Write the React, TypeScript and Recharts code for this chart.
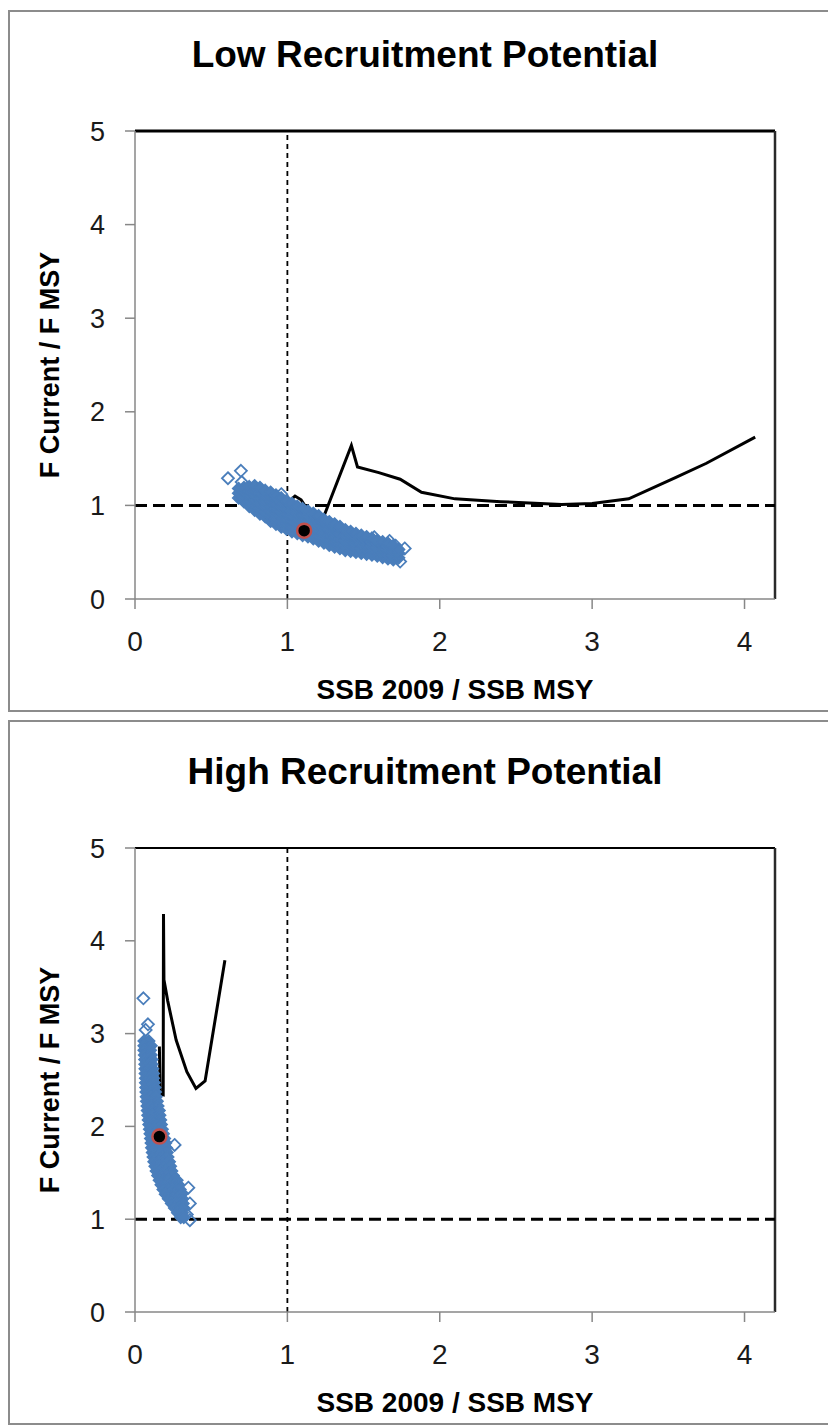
import React from 'react';
import {
  ScatterChart,
  Scatter,
  XAxis,
  YAxis,
  ReferenceLine,
} from 'recharts';

// --- data ---
const X_TICKS = [0, 1, 2, 3, 4];
const Y_TICKS = [0, 1, 2, 3, 4, 5];
const TITLES = ['Low Recruitment Potential', 'High Recruitment Potential'];
const X_LABEL = 'SSB 2009 / SSB MSY';
const Y_LABEL = 'F Current / F MSY';

// low recruitment: scatter cloud, one column per x with its y values
const LOW_CLOUD: [number, number[]][] = [
  [0.68, [1.08, 1.13, 1.18]],
  [0.715, [1.04, 1.09, 1.14, 1.19]],
  [0.75, [0.99, 1.045, 1.1, 1.155, 1.2]],
  [0.785, [0.95, 1.0, 1.055, 1.11, 1.165, 1.21]],
  [0.82, [0.91, 0.965, 1.02, 1.075, 1.13, 1.19]],
  [0.855, [0.88, 0.935, 0.99, 1.045, 1.1, 1.16]],
  [0.89, [0.83, 0.885, 0.94, 0.995, 1.05, 1.1, 1.14]],
  [0.925, [0.8, 0.855, 0.91, 0.965, 1.02, 1.075, 1.11]],
  [0.96, [0.77, 0.825, 0.88, 0.935, 0.99, 1.04, 1.08]],
  [0.995, [0.745, 0.8, 0.855, 0.91, 0.965, 1.02, 1.05]],
  [1.03, [0.72, 0.775, 0.83, 0.885, 0.94, 0.99, 1.02]],
  [1.065, [0.7, 0.75, 0.8, 0.855, 0.91, 0.96, 0.99]],
  [1.1, [0.68, 0.735, 0.79, 0.845, 0.9, 0.965]],
  [1.135, [0.665, 0.72, 0.775, 0.83, 0.885, 0.94]],
  [1.17, [0.645, 0.7, 0.755, 0.81, 0.865, 0.915]],
  [1.205, [0.62, 0.675, 0.73, 0.785, 0.84, 0.89]],
  [1.24, [0.6, 0.65, 0.705, 0.76, 0.81, 0.85]],
  [1.275, [0.575, 0.63, 0.685, 0.74, 0.79, 0.825]],
  [1.31, [0.555, 0.61, 0.665, 0.72, 0.77, 0.8]],
  [1.345, [0.54, 0.59, 0.645, 0.7, 0.75, 0.775]],
  [1.38, [0.52, 0.57, 0.625, 0.68, 0.74]],
  [1.415, [0.51, 0.56, 0.615, 0.67, 0.72]],
  [1.45, [0.5, 0.55, 0.6, 0.65, 0.7]],
  [1.485, [0.49, 0.54, 0.59, 0.64, 0.68]],
  [1.52, [0.48, 0.525, 0.575, 0.625, 0.665]],
  [1.555, [0.47, 0.515, 0.565, 0.61, 0.65]],
  [1.59, [0.46, 0.505, 0.55, 0.595, 0.625]],
  [1.625, [0.445, 0.49, 0.535, 0.58, 0.61]],
  [1.66, [0.43, 0.475, 0.52, 0.565, 0.595]],
  [1.695, [0.42, 0.465, 0.51, 0.57]],
  [1.73, [0.44, 0.49, 0.53]],
];
const LOW_OUTLIERS: [number, number][] = [
  [0.61, 1.29], [0.695, 1.37], [0.7, 1.25], [0.96, 1.12], [1.57, 0.66],
  [1.67, 0.62], [1.71, 0.57], [1.77, 0.54], [1.72, 0.45], [1.74, 0.4], [1.69, 0.48],
];
const LOW_LINE: [number, number][] = [
  [0.97, 0.99], [1.05, 1.1], [1.09, 1.06], [1.21, 0.76], [1.42, 1.64],
  [1.46, 1.41], [1.6, 1.35], [1.74, 1.28], [1.88, 1.14], [2.1, 1.07],
  [2.4, 1.04], [2.8, 1.01], [3.0, 1.02], [3.24, 1.07], [3.55, 1.3],
  [3.75, 1.45], [4.07, 1.73],
];
const LOW_POINT: [number, number] = [1.11, 0.73];

// high recruitment: scatter cloud, one row per y with its x values
const HIGH_CLOUD: [number, number[]][] = [
  [2.92, [0.06, 0.09]],
  [2.87, [0.06, 0.09, 0.105]],
  [2.82, [0.06, 0.09, 0.1]],
  [2.77, [0.063, 0.093, 0.105]],
  [2.72, [0.065, 0.095, 0.11]],
  [2.67, [0.066, 0.096, 0.11]],
  [2.62, [0.067, 0.097, 0.115]],
  [2.57, [0.068, 0.098, 0.12]],
  [2.52, [0.07, 0.1, 0.12]],
  [2.47, [0.07, 0.1, 0.125]],
  [2.42, [0.072, 0.102, 0.13]],
  [2.37, [0.073, 0.103, 0.133]],
  [2.32, [0.075, 0.105, 0.138]],
  [2.27, [0.077, 0.107, 0.145]],
  [2.22, [0.08, 0.11, 0.15]],
  [2.17, [0.082, 0.112, 0.142, 0.158]],
  [2.12, [0.085, 0.115, 0.145, 0.162]],
  [2.07, [0.088, 0.118, 0.148, 0.167]],
  [2.02, [0.092, 0.122, 0.152, 0.172]],
  [1.97, [0.096, 0.126, 0.156, 0.178]],
  [1.92, [0.1, 0.13, 0.16, 0.185]],
  [1.87, [0.103, 0.133, 0.163, 0.193]],
  [1.82, [0.107, 0.137, 0.167, 0.2]],
  [1.77, [0.11, 0.14, 0.17, 0.205]],
  [1.72, [0.115, 0.145, 0.175, 0.21]],
  [1.67, [0.12, 0.15, 0.18, 0.215]],
  [1.62, [0.125, 0.155, 0.185, 0.225]],
  [1.57, [0.132, 0.162, 0.192, 0.232]],
  [1.52, [0.14, 0.17, 0.2, 0.24]],
  [1.47, [0.15, 0.18, 0.21, 0.25]],
  [1.42, [0.16, 0.19, 0.22, 0.26, 0.275]],
  [1.37, [0.172, 0.202, 0.232, 0.262, 0.285]],
  [1.32, [0.185, 0.215, 0.245, 0.275, 0.295]],
  [1.27, [0.2, 0.23, 0.26, 0.29, 0.305]],
  [1.22, [0.22, 0.25, 0.28, 0.31]],
  [1.17, [0.24, 0.27, 0.3, 0.315]],
  [1.12, [0.26, 0.29, 0.32]],
  [1.07, [0.28, 0.31]],
  [1.02, [0.3, 0.32]],
];
const HIGH_OUTLIERS: [number, number][] = [
  [0.055, 3.38], [0.085, 3.1], [0.07, 3.04], [0.35, 1.34], [0.36, 1.17],
  [0.34, 1.05], [0.36, 0.99], [0.26, 1.8],
];
const HIGH_LINE: [number, number][] = [
  [0.16, 2.86], [0.165, 2.35], [0.185, 2.34], [0.187, 4.29], [0.19, 3.58],
  [0.215, 3.35], [0.27, 2.93], [0.34, 2.59], [0.4, 2.41], [0.46, 2.49],
  [0.59, 3.79],
];
const HIGH_POINT: [number, number] = [0.16, 1.89];

const FONT = '"Liberation Sans", Arial, sans-serif';
const BLUE = '#4A7EBB';
const AXIS_GRAY = '#878787';

const toPoints = (pairs: [number, number][]) => pairs.map(([x, y]) => ({ x, y }));
const columnsToPoints = (cols: [number, number[]][]) =>
  cols.flatMap(([x, ys]) => ys.map((y) => ({ x, y })));
const rowsToPoints = (rows: [number, number[]][]) =>
  rows.flatMap(([y, xs]) => xs.map((x) => ({ x, y })));

const diamondPath = (cx: number, cy: number, s: number) =>
  `M${cx},${cy - s}L${cx + s},${cy}L${cx},${cy + s}L${cx - s},${cy}Z`;

// dense part of the cloud: overlapping markers read as a solid band
const DenseDiamond = (props: any) => {
  const { cx, cy } = props;
  if (cx == null || cy == null) return <g />;
  return <path d={diamondPath(cx, cy, 6)} fill={BLUE} stroke={BLUE} strokeWidth={1.5} />;
};

const Diamond = (props: any) => {
  const { cx, cy } = props;
  if (cx == null || cy == null) return <g />;
  return <path d={diamondPath(cx, cy, 6)} fill="none" stroke={BLUE} strokeWidth={1.8} />;
};

const RedDot = (props: any) => {
  const { cx, cy } = props;
  if (cx == null || cy == null) return <g />;
  return <circle cx={cx} cy={cy} r={7} fill="#000" stroke="#C0504D" strokeWidth={2.5} />;
};

const NoShape = () => <g />;

interface PanelProps {
  top: number;
  height: number;
  plotTop: number;
  title: string;
  cloud: { x: number; y: number }[];
  outliers: { x: number; y: number }[];
  line: { x: number; y: number }[];
  point: { x: number; y: number }[];
  topLineWidth: number;
}

const Panel = ({ top, height, plotTop, title, cloud, outliers, line, point, topLineWidth }: PanelProps) => {
  const plotBottom = height - 113;
  const plotMid = (plotTop + plotBottom) / 2;
  const textBase = {
    position: 'absolute' as const,
    whiteSpace: 'nowrap' as const,
    fontFamily: FONT,
    fontWeight: 'bold' as const,
    color: '#000',
  };
  return (
    <>
      <div
        style={{
          position: 'absolute',
          left: 8,
          top: top,
          width: 840,
          height: height,
          border: '2px solid #8c8c8c',
          boxSizing: 'border-box',
        }}
      />
      <div
        style={{
          ...textBase,
          left: 0,
          top: top + plotTop - 76 - 22,
          width: 850,
          textAlign: 'center',
          fontSize: 37,
          lineHeight: '44px',
        }}
      >
        {title}
      </div>
      <div
        style={{
          ...textBase,
          left: 50,
          top: top + plotMid,
          transform: 'translate(-50%, -50%) rotate(-90deg)',
          fontSize: 27,
          lineHeight: '32px',
        }}
      >
        {Y_LABEL}
      </div>
      <div
        style={{
          ...textBase,
          left: 455,
          top: top + plotBottom + 91,
          transform: 'translate(-50%, -50%)',
          fontSize: 28,
          lineHeight: '32px',
        }}
      >
        {X_LABEL}
      </div>
      <div style={{ position: 'absolute', left: 0, top: top }}>
        <ScatterChart
          width={828}
          height={height}
          margin={{ top: plotTop, right: 53, bottom: 83, left: 75 }}
        >
          <XAxis
            type="number"
            dataKey="x"
            domain={[0, 4.2]}
            ticks={X_TICKS}
            allowDataOverflow
            height={30}
            tickSize={10}
            tickMargin={22}
            axisLine={{ stroke: AXIS_GRAY, strokeWidth: 1.5 }}
            tickLine={{ stroke: AXIS_GRAY, strokeWidth: 1.5 }}
            tick={{ fill: '#1a1a1a', fontSize: 28, fontFamily: FONT }}
          />
          <YAxis
            type="number"
            dataKey="y"
            domain={[0, 5]}
            ticks={Y_TICKS}
            allowDataOverflow
            width={60}
            tickSize={10}
            tickMargin={20}
            axisLine={{ stroke: AXIS_GRAY, strokeWidth: 1.5 }}
            tickLine={{ stroke: AXIS_GRAY, strokeWidth: 1.5 }}
            tick={{ fill: '#1a1a1a', fontSize: 27, fontFamily: FONT }}
          />
          <ReferenceLine y={5} stroke="#000" strokeWidth={topLineWidth} />
          <ReferenceLine x={4.2} stroke="#2a2a2a" strokeWidth={2.5} />
          <ReferenceLine x={1} stroke="#000" strokeWidth={1.8} strokeDasharray="5 4" />
          <ReferenceLine y={1} stroke="#000" strokeWidth={3} strokeDasharray="12 6" />
          <Scatter
            data={line}
            shape={NoShape}
            line={{ stroke: '#000', strokeWidth: 3 }}
            lineType="joint"
            isAnimationActive={false}
          />
          <Scatter data={outliers} shape={Diamond} isAnimationActive={false} />
          <Scatter data={cloud} shape={DenseDiamond} isAnimationActive={false} />
          <Scatter data={point} shape={RedDot} isAnimationActive={false} />
        </ScatterChart>
      </div>
    </>
  );
};

export default function App() {
  return (
    <div
      style={{
        position: 'absolute',
        left: 0,
        top: 0,
        width: 828,
        height: 1425,
        overflow: 'hidden',
        background: '#fff',
      }}
    >
      <Panel
        top={10}
        height={702}
        plotTop={121}
        title={TITLES[0]}
        cloud={columnsToPoints(LOW_CLOUD)}
        outliers={toPoints(LOW_OUTLIERS)}
        line={toPoints(LOW_LINE)}
        point={toPoints([LOW_POINT])}
        topLineWidth={3}
      />
      <Panel
        top={720}
        height={705}
        plotTop={128}
        title={TITLES[1]}
        cloud={rowsToPoints(HIGH_CLOUD)}
        outliers={toPoints(HIGH_OUTLIERS)}
        line={toPoints(HIGH_LINE)}
        point={toPoints([HIGH_POINT])}
        topLineWidth={2}
      />
    </div>
  );
}
